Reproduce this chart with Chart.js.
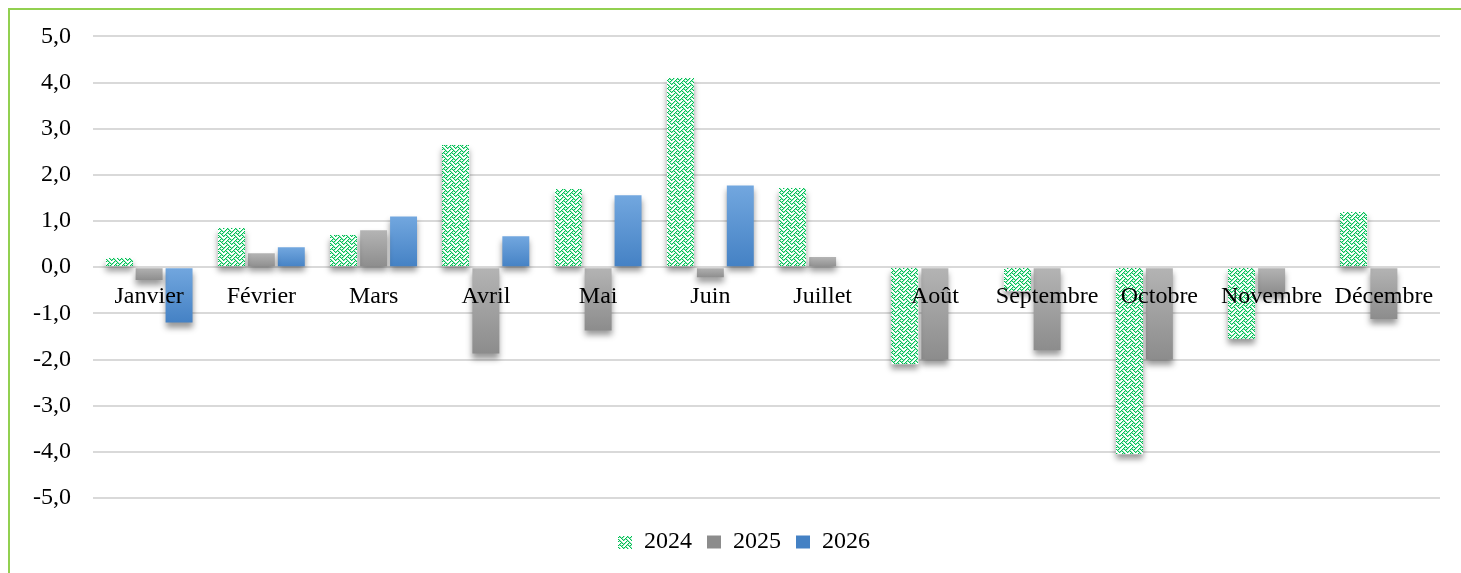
<!DOCTYPE html>
<html lang="fr">
<head>
<meta charset="utf-8">
<title>Variations mensuelles 2024-2026</title>
<script src="https://cdn.jsdelivr.net/npm/chart.js@4.4.1/dist/chart.umd.min.js"></script>
<style>
  html, body { margin: 0; padding: 0; background: #fff; overflow: hidden; }
  #wrap { position: relative; width: 1461px; height: 573px; }
  #frame {
    position: absolute; left: 8px; top: 8px; width: 2000px; height: 2000px;
    border-left: 2px solid #92D050; border-top: 2px solid #92D050;
    pointer-events: none;
  }
</style>
</head>
<body>
<div id="wrap">
  <canvas id="chart"></canvas>
  <div id="frame"></div>
</div>
<script>
// Chart data
const months = ['Janvier', 'Février', 'Mars', 'Avril', 'Mai', 'Juin',
                'Juillet', 'Août', 'Septembre', 'Octobre', 'Novembre', 'Décembre'];
const seriesNames = ['2024', '2025', '2026'];
const values2024 = [0.2, 0.85, 0.7, 2.65, 1.7, 4.1, 1.72, -2.1, -0.52, -4.05, -1.55, 1.2];
const values2025 = [-0.28, 0.3, 0.8, -1.87, -1.37, -0.22, 0.22, -2.0, -1.8, -2.0, -0.58, -1.12];
const values2026 = [-1.2, 0.43, 1.1, 0.67, 1.56, 1.77, null, null, null, null, null, null];
const yMin = -5;
const yMax = 5;
const yStep = 1;

const FONT = "'Liberation Serif', 'Times New Roman', serif";
const WEAVE_COLOR = '#00BE55';
const WEAVE_SOFT = '#A8EBC4';
const WEAVE_ROWS = [0x11, 0x2a, 0x44, 0xa2, 0x11, 0x28, 0x44, 0x8a];

function weaveOn(px, py) {
  const bits = WEAVE_ROWS[((py % 8) + 8) % 8];
  return (bits & (0x80 >> (((px % 8) + 8) % 8))) !== 0;
}

/**
 * Fills a rectangle with the green weave dots (8x8 tile, aligned to the canvas grid).
 * A paler pixel next to each dot mimics the soft edge seen in the reference.
 */
function fillWeave(ctx, left, top, w, h) {
  const x0 = Math.round(left), x1 = Math.round(left + w);
  const y0 = Math.round(top), y1 = Math.round(top + h);
  ctx.fillStyle = WEAVE_SOFT;
  for (let py = y0; py < y1; py++) {
    for (let px = x0 + 1; px < x1; px++) {
      if (!weaveOn(px, py) && weaveOn(px - 1, py)) ctx.fillRect(px, py, 1, 1);
    }
  }
  ctx.fillStyle = WEAVE_COLOR;
  for (let py = y0; py < y1; py++) {
    for (let px = x0; px < x1; px++) {
      if (weaveOn(px, py)) ctx.fillRect(px, py, 1, 1);
    }
  }
}

/**
 * Vertical gradient per bar: light at the top, darker at the bottom.
 */
function barGradient(top, bottom, legendColor) {
  return (ctx) => {
    if (ctx.type !== 'data' || ctx.parsed == null || ctx.parsed.y == null) return legendColor;
    const chart = ctx.chart;
    const y = chart.scales.y;
    if (!y) return legendColor;
    const y0 = y.getPixelForValue(0);
    const y1 = y.getPixelForValue(ctx.parsed.y);
    if (!Number.isFinite(y0) || !Number.isFinite(y1)) return legendColor;
    const g = chart.ctx.createLinearGradient(0, Math.min(y0, y1), 0, Math.max(y0, y1) + 0.5);
    g.addColorStop(0, top);
    g.addColorStop(1, bottom);
    return g;
  };
}

// Soft drop shadow under the bars
const barShadow = {
  id: 'barShadow',
  beforeDatasetsDraw(chart) {
    const ctx = chart.ctx;
    ctx.save();
    ctx.shadowColor = 'rgba(0, 0, 0, 0.4)';
    ctx.shadowBlur = 6;
    ctx.shadowOffsetY = 5;
  },
  afterDatasetsDraw(chart) {
    chart.ctx.restore();
  }
};

// Weave dots on the 2024 bars and on their legend box
const weaveFill = {
  id: 'weaveFill',
  afterDatasetsDraw(chart) {
    const ctx = chart.ctx;
    ctx.save();
    chart.getDatasetMeta(0).data.forEach((bar) => {
      const p = bar.getProps(['x', 'y', 'base', 'width'], true);
      if (!Number.isFinite(p.y) || !Number.isFinite(p.base)) return;
      fillWeave(ctx, p.x - p.width / 2, Math.min(p.y, p.base), p.width, Math.abs(p.base - p.y));
    });
    const legend = chart.legend;
    const hb = legend && legend.legendHitBoxes && legend.legendHitBoxes[0];
    if (hb) {
      const lab = legend.options.labels;
      fillWeave(ctx, hb.left, hb.top + (hb.height - lab.boxHeight) / 2, lab.boxWidth, lab.boxHeight);
    }
    ctx.restore();
  }
};

// The legend sits a little right of the canvas centre in the reference
const legendShift = {
  id: 'legendShift',
  afterLayout(chart) {
    if (chart.legend) {
      chart.legend.left += 24;
      chart.legend.right += 24;
    }
  }
};

const ctx = document.getElementById('chart').getContext('2d');
const chart = new Chart(ctx, {
  type: 'bar',
  data: {
    labels: months,
    datasets: [
      { label: seriesNames[0], data: values2024, backgroundColor: '#FFFFFF' },
      { label: seriesNames[1], data: values2025, backgroundColor: barGradient('#B4B4B4', '#8C8C8C', '#A0A0A0') },
      { label: seriesNames[2], data: values2026, backgroundColor: barGradient('#72A7DF', '#4481C4', '#5B93D2') }
    ]
  },
  options: {
    responsive: true,
    maintainAspectRatio: false,
    animation: false,
    devicePixelRatio: 1,
    datasets: {
      bar: { categoryPercentage: 0.8, barPercentage: 0.9, borderWidth: 0 }
    },
    layout: { padding: { left: 0, right: 21, top: 35, bottom: 9 } },
    plugins: {
      tooltip: { enabled: false },
      legend: {
        position: 'bottom',
        title: { display: true, text: '', padding: { top: 16, bottom: 0 }, font: { size: 1, lineHeight: 1 } },
        labels: {
          font: { family: FONT, size: 24 },
          color: '#000',
          boxWidth: 14,
          boxHeight: 13,
          padding: 15
        }
      }
    },
    scales: {
      x: {
        position: { y: 0 },
        grid: { display: false, drawTicks: false },
        border: { display: false },
        ticks: {
          z: 1,
          font: { family: FONT, size: 24 },
          color: '#000',
          padding: 15,
          maxRotation: 0,
          autoSkip: false
        }
      },
      y: {
        min: yMin,
        max: yMax,
        afterFit(scale) { scale.width = 93; },
        grid: { color: '#D9D9D9', lineWidth: 2, drawTicks: false },
        border: { display: false },
        ticks: {
          stepSize: yStep,
          padding: 22,
          font: { family: FONT, size: 24 },
          color: '#000',
          callback: (v) => v.toFixed(1).replace('.', ',')
        }
      }
    }
  },
  plugins: [barShadow, weaveFill, legendShift]
});
</script>
</body>
</html>
